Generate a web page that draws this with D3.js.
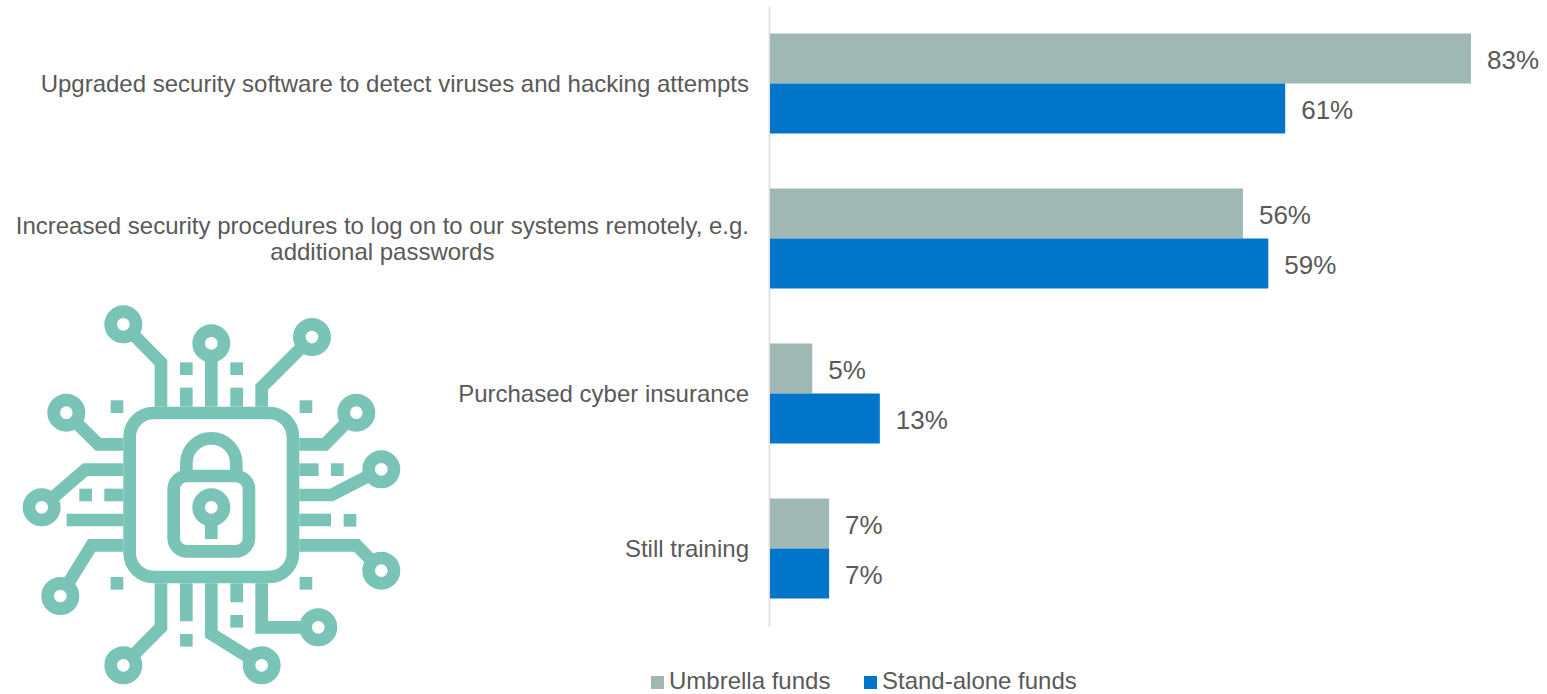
<!DOCTYPE html>
<html>
<head>
<meta charset="utf-8">
<title>Cyber security measures by fund type</title>
<script src="https://cdn.jsdelivr.net/npm/d3@7/dist/d3.min.js"></script>
<style>
  html, body { margin: 0; padding: 0; background: #fff; }
  svg { display: block; }
  text { font-family: "Liberation Sans", Arial, sans-serif; fill: #595959; }
</style>
</head>
<body>
<svg id="chart" width="1547" height="694"></svg>
<script>
// Chart values
const categories = [
  ["Upgraded security software to detect viruses and hacking attempts"],
  ["Increased security procedures to log on to our systems remotely, e.g.", "additional passwords"],
  ["Purchased cyber insurance"],
  ["Still training"]
];
const seriesNames = ["Umbrella funds", "Stand-alone funds"];
const umbrellaFunds = [83, 56, 5, 7];
const standAloneFunds = [61, 59, 13, 7];
const seriesValues = [umbrellaFunds, standAloneFunds];
const seriesColors = ["#9FB8B3", "#0075CA"];

// Circuit-board padlock icon, in its own 1260-unit drawing space
const iconColor = "#7AC3B7";
const iconNodes = [[370,103],[634,160],[936,141],[199,368],[1069,368],[1144,538],
                   [125,652],[1144,842],[181,918],[955,1012],[370,1126],[785,1126]];
const iconTraces = [
  [[370,103],[483,218],[483,350]], [[634,160],[634,350]], [[936,141],[785,292],[785,350]],
  [[559,293],[559,350]], [[710,293],[710,350]],
  [[199,368],[295,463],[370,463]], [[125,652],[256,539],[370,539]],
  [[313,615],[370,615]], [[200,690],[370,690]], [[181,918],[275,766],[370,766]],
  [[1069,368],[975,463],[898,463]], [[898,539],[956,539]],
  [[1144,538],[995,615],[898,615]], [[898,690],[993,690]], [[1144,842],[1070,766],[898,766]],
  [[483,880],[483,1012],[370,1126]], [[559,880],[559,994]],
  [[634,880],[634,1032],[785,1126]], [[710,880],[710,937]], [[785,880],[785,1012],[955,1012]]
];
const iconDots = [[559,236],[710,236],[351,350],[918,350],[1012,539],[257,615],
                  [1050,691],[351,880],[918,880],[710,994],[559,1051]];

const svg = d3.select("#chart");

// Scales
const x = d3.scaleLinear().domain([0, 83]).range([770, 1471]);
const y = d3.scaleBand()
  .domain(d3.range(categories.length))
  .range([6, 626])
  .paddingInner(0.355)
  .paddingOuter(0.1775);
const ySeries = d3.scaleBand().domain(d3.range(seriesNames.length)).range([0, y.bandwidth()]);

const labelSize = 24;
const valueSize = 26;

// Category axis, drawn under the bars
const axis = svg.append("g")
  .attr("transform", `translate(${x(0) - 1},0)`)
  .call(d3.axisLeft(y).tickSize(0).tickPadding(20).tickFormat(() => ""));
axis.select(".domain").attr("stroke", "#E2E2E2").attr("stroke-width", 2);

axis.selectAll(".tick text").each(function (i) {
  const lines = categories[i];
  const t = d3.select(this).attr("font-size", labelSize).attr("font-family", null).attr("dy", null);
  t.selectAll("tspan")
    .data(lines)
    .join("tspan")
    .attr("x", -20)
    .attr("y", (d, k) => (k - (lines.length - 1) / 2) * 26)
    .attr("dy", "0.35em")
    .text(d => d);
  // A wrapped label is centred under its longest line
  if (lines.length > 1) {
    const widths = t.selectAll("tspan").nodes().map(n => n.getComputedTextLength());
    const widest = d3.max(widths);
    t.selectAll("tspan")
      .attr("x", (d, k) => -20 - (widest - widths[k]) / 2);
  }
});

// Bars and their value labels
const groups = svg.selectAll("g.series")
  .data(seriesValues)
  .join("g")
  .attr("class", "series")
  .attr("data-series", (d, i) => seriesNames[i]);

groups.selectAll("rect")
  .data((d, s) => d.map((v, c) => ({ v, c, s })))
  .join("rect")
  .attr("x", x(0))
  .attr("y", d => y(d.c) + ySeries(d.s))
  .attr("width", d => x(d.v) - x(0))
  .attr("height", ySeries.bandwidth())
  .attr("fill", d => seriesColors[d.s]);

groups.selectAll("text")
  .data((d, s) => d.map((v, c) => ({ v, c, s })))
  .join("text")
  .attr("x", d => x(d.v) + 16)
  .attr("y", d => y(d.c) + ySeries(d.s) + ySeries.bandwidth() / 2 + 1)
  .attr("dy", "0.35em")
  .attr("font-size", valueSize)
  .text(d => d.v + "%");

// Legend
const legendItems = [
  { name: seriesNames[0], color: seriesColors[0], left: 651 },
  { name: seriesNames[1], color: seriesColors[1], left: 864 }
];
const legend = svg.append("g").attr("class", "legend");
legend.selectAll("rect")
  .data(legendItems)
  .join("rect")
  .attr("x", d => d.left)
  .attr("y", 676)
  .attr("width", 13)
  .attr("height", 13)
  .attr("fill", d => d.color);
legend.selectAll("text")
  .data(legendItems)
  .join("text")
  .attr("x", d => d.left + 18)
  .attr("y", 689)
  .attr("font-size", labelSize)
  .text(d => d.name);

// Icon
const icon = svg.append("g")
  .attr("class", "icon")
  .attr("transform", "translate(0,290) scale(0.3333)")
  .attr("fill", "none")
  .attr("stroke", iconColor)
  .attr("stroke-width", 38);

icon.append("rect").attr("x", 389).attr("y", 369).attr("width", 490).attr("height", 492).attr("rx", 72);
icon.append("rect").attr("x", 521).attr("y", 558).attr("width", 226).attr("height", 226).attr("rx", 40);
icon.append("path").attr("d", "M559 550V520A75 75 0 0 1 709 520V550");
icon.append("circle").attr("cx", 634).attr("cy", 652).attr("r", 38);
icon.append("path").attr("d", "M634 695V747");

const traceLine = d3.line();
icon.selectAll("path.trace")
  .data(iconTraces)
  .join("path")
  .attr("class", "trace")
  .attr("d", traceLine);
icon.selectAll("circle.node")
  .data(iconNodes)
  .join("circle")
  .attr("class", "node")
  .attr("cx", d => d[0])
  .attr("cy", d => d[1])
  .attr("r", 38)
  .attr("fill", "#fff");
icon.selectAll("rect.dot")
  .data(iconDots)
  .join("rect")
  .attr("class", "dot")
  .attr("x", d => d[0] - 19)
  .attr("y", d => d[1] - 19)
  .attr("width", 38)
  .attr("height", 38)
  .attr("fill", iconColor)
  .attr("stroke", "none");
</script>
</body>
</html>
